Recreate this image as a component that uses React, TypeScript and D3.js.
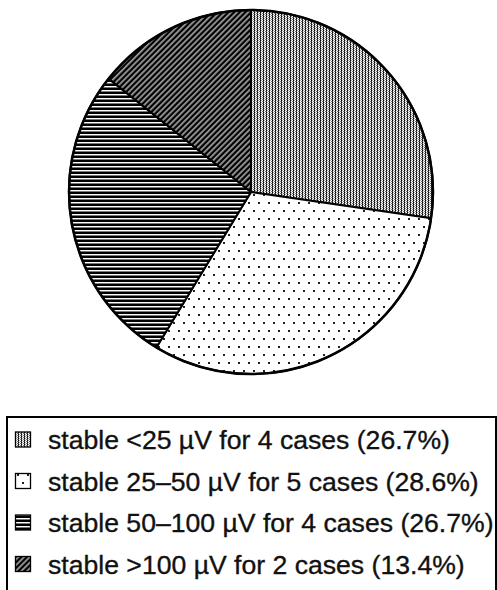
import React from "react";
import * as d3 from "d3";

// legend categories and counts
const categories = ["stable <25 µV", "stable 25–50 µV", "stable 50–100 µV", "stable >100 µV"];
const caseCounts = [4, 5, 4, 2];
const percentLabels = ["26.7%", "28.6%", "26.7%", "13.4%"];
// shares of the circle as drawn in the picture
const sliceShares = [27.3, 31.4, 27.0, 14.3];
const patternIds = ["fineDots", "sparseDots", "hLines", "diagHatch"];

const W = 497;
const H = 590;
const cx = 251;
const cy = 192;
const radius = 182;

const App = () => {
  const pie = d3
    .pie<number>()
    .sort(null)
    .value((d) => d);
  const arcs = pie(sliceShares);
  const arcGen = d3
    .arc<d3.PieArcDatum<number>>()
    .innerRadius(0)
    .outerRadius(radius);

  const rowY = d3.scalePoint<string>().domain(categories).range([449, 573.5]);

  return (
    <svg
      width={W}
      height={H}
      style={{ position: "absolute", left: 0, top: 0, background: "#fff" }}
    >
      <defs>
        <pattern id="fineDots" width={3} height={2} patternUnits="userSpaceOnUse">
          <rect width={3} height={2} fill="#fff" />
          <rect x={0} y={0} width={1} height={1} fill="#000" shapeRendering="crispEdges" />
          <rect x={0} y={1} width={1} height={1} fill="#444" shapeRendering="crispEdges" />
          <rect x={2} y={1} width={1} height={1} fill="#777" shapeRendering="crispEdges" />
          <rect x={1} y={0} width={1} height={1} fill="#aaa" shapeRendering="crispEdges" />
        </pattern>
        <pattern id="sparseDots" width={10} height={16} patternUnits="userSpaceOnUse">
          <rect width={10} height={16} fill="#fff" />
          <rect x={2} y={2} width={2} height={2} fill="#222" shapeRendering="crispEdges" />
          <rect x={7} y={10} width={2} height={2} fill="#222" shapeRendering="crispEdges" />
        </pattern>
        <pattern id="hLines" width={4} height={4} patternUnits="userSpaceOnUse">
          <rect width={4} height={4} fill="#fff" />
          <rect x={0} y={0} width={4} height={2} fill="#000" shapeRendering="crispEdges" />
          <rect x={0} y={3} width={4} height={1} fill="#777" shapeRendering="crispEdges" />
        </pattern>
        <pattern
          id="diagHatch"
          width={4}
          height={4}
          patternUnits="userSpaceOnUse"
          patternTransform="rotate(45)"
        >
          <rect width={4} height={4} fill="#fff" />
          <rect x={0} y={0} width={2.3} height={4} fill="#000" />
          <rect x={2.8} y={0} width={1} height={4} fill="#555" />
        </pattern>
      </defs>

      <g transform={`translate(${cx},${cy})`}>
        {arcs.map((a, i) => (
          <path
            key={i}
            d={arcGen(a) || ""}
            fill={`url(#${patternIds[i]})`}
            stroke="#000"
            strokeWidth={2}
            strokeLinejoin="round"
          />
        ))}
        <circle r={radius} fill="none" stroke="#000" strokeWidth={2.5} />
      </g>

      <rect x={7} y={417} width={489} height={200} fill="none" stroke="#000" strokeWidth={2} />

      {categories.map((c, i) => {
        const y = rowY(c) as number;
        return (
          <g key={c}>
            <rect
              x={15.5}
              y={y - 17}
              width={15}
              height={15}
              fill={`url(#${patternIds[i]})`}
              stroke="#000"
              strokeWidth={1.3}
            />
            <text
              x={48}
              y={y}
              fontFamily="Liberation Sans, Arial, sans-serif"
              fontSize={26.6}
              fill="#111"
              stroke="#111"
              strokeWidth={0.35}
            >
              {`${c} for ${caseCounts[i]} cases (${percentLabels[i]})`}
            </text>
          </g>
        );
      })}
    </svg>
  );
};

export default App;
